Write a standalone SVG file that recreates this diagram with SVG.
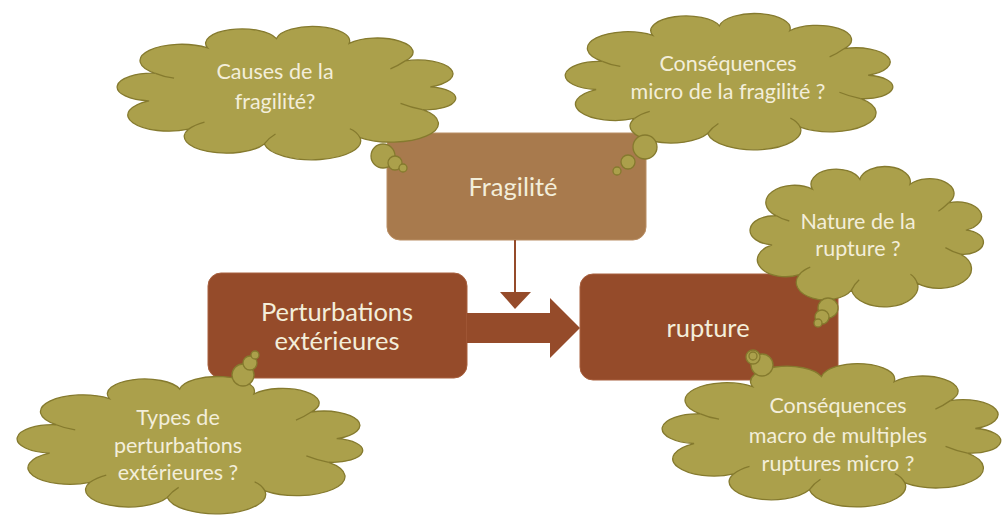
<svg xmlns="http://www.w3.org/2000/svg" width="1003" height="515" viewBox="0 0 1003 515">
<style>
.cloud{fill:#ABA04B;stroke:#857A2E;stroke-width:1.3;vector-effect:non-scaling-stroke}
.crease{fill:none;stroke:#857A2E;stroke-width:1.3;vector-effect:non-scaling-stroke}
.bub{fill:#ABA04B;stroke:#857A2E;stroke-width:1.3}
.ct{font-family:Lato,"Open Sans",sans-serif;font-size:21.5px;fill:#F3EEDA;text-anchor:middle}
.bt{font-family:Lato,"Open Sans",sans-serif;font-size:25.5px;fill:#F3EEDA;text-anchor:middle}
.dark{fill:#954B2A;stroke:#A8603E;stroke-width:1}
.light{fill:#A87A4D;stroke:#B98E64;stroke-width:1}
</style>
<defs>
<g id="cloudShape">
<path class="cloud" d="M8.6,57 A1,1 0 0 1 10.5,36.3 A1,1 0 0 1 25.9,17.2 A1,1 0 0 1 46.3,10.2 A1,1 0 0 1 67.8,13.8 A1,1 0 0 1 84.4,27 A1,1 0 0 1 91.8,46.5 A1,1 0 0 1 89.5,63.7 A1,1 0 0 1 71,84.6 A1,1 0 0 1 42.7,89.4 A1,1 0 0 1 20.3,78.3 A1,1 0 0 1 8.6,57 Z"/>
<path class="crease" d="M10.5,36.3 Q13,39 16,40 M84.4,27 Q82,31 80,33 M89.5,63.7 Q86,62 83,59 M42.7,89.4 Q44,85 46,82 M71,84.6 Q70,80 68,78 M20.3,78.3 Q22,75 25,73"/>
</g>
</defs>

<g id="node-fragilite">
<rect class="light" x="387" y="133" width="259" height="107" rx="13"/>
<text class="bt" x="513" y="196">Fragilité</text>
</g>
<g id="node-perturbations">
<rect class="dark" x="208" y="273" width="259" height="105" rx="13"/>
<text class="bt" x="337" y="321">Perturbations</text>
<text class="bt" x="337" y="350">extérieures</text>
</g>
<g id="node-rupture">
<rect class="dark" x="580" y="274" width="258" height="106" rx="13"/>
<text class="bt" x="708" y="337">rupture</text>
</g>

<g id="connectors">
<line x1="515" y1="240" x2="515" y2="294" stroke="#954B2A" stroke-width="2"/>
<polygon points="500,292 531,292 515,309" fill="#954B2A"/>
<polygon points="467,313 550,313 550,298 580,328 550,358 550,343 467,343" fill="#954B2A"/>
</g>

<g id="cloud-causes">
<use href="#cloudShape" transform="translate(120,25) scale(3.38,1.33)"/>
<circle class="bub" cx="383" cy="156" r="12"/>
<circle class="bub" cx="395" cy="163" r="7"/>
<circle class="bub" cx="403" cy="168" r="4"/>
<text class="ct" x="275" y="79">Causes de la</text>
<text class="ct" x="275" y="109">fragilité?</text>
</g>

<g id="cloud-consequences-micro">
<use href="#cloudShape" transform="translate(568,12) scale(3.27,1.36)"/>
<circle class="bub" cx="645" cy="147" r="12"/>
<circle class="bub" cx="628" cy="162" r="7"/>
<circle class="bub" cx="617" cy="171" r="4"/>
<text class="ct" x="728" y="71">Conséquences</text>
<text class="ct" x="728" y="99">micro de la fragilité ?</text>
</g>

<g id="cloud-nature">
<use href="#cloudShape" transform="translate(752,165) scale(2.33,1.40)"/>
<circle class="bub" cx="828" cy="308" r="10"/>
<circle class="bub" cx="822" cy="317" r="7"/>
<circle class="bub" cx="818" cy="323" r="4"/>
<text class="ct" x="858" y="229">Nature de la</text>
<text class="ct" x="858" y="256">rupture ?</text>
</g>

<g id="cloud-types">
<use href="#cloudShape" transform="translate(20,375) scale(3.45,1.37)"/>
<circle class="bub" cx="243" cy="375" r="11"/>
<circle class="bub" cx="250" cy="363" r="7"/>
<circle class="bub" cx="255" cy="355" r="4"/>
<text class="ct" x="178" y="425">Types de</text>
<text class="ct" x="178" y="453">perturbations</text>
<text class="ct" x="178" y="480">extérieures ?</text>
</g>

<g id="cloud-consequences-macro">
<use href="#cloudShape" transform="translate(665,362) scale(3.38,1.43)"/>
<circle class="bub" cx="762" cy="365" r="11"/>
<circle class="bub" cx="753" cy="357" r="7"/>
<circle class="bub" cx="753" cy="356" r="4"/>
<text class="ct" x="838" y="413">Conséquences</text>
<text class="ct" x="838" y="443">macro de multiples</text>
<text class="ct" x="838" y="471">ruptures micro ?</text>
</g>
</svg>
